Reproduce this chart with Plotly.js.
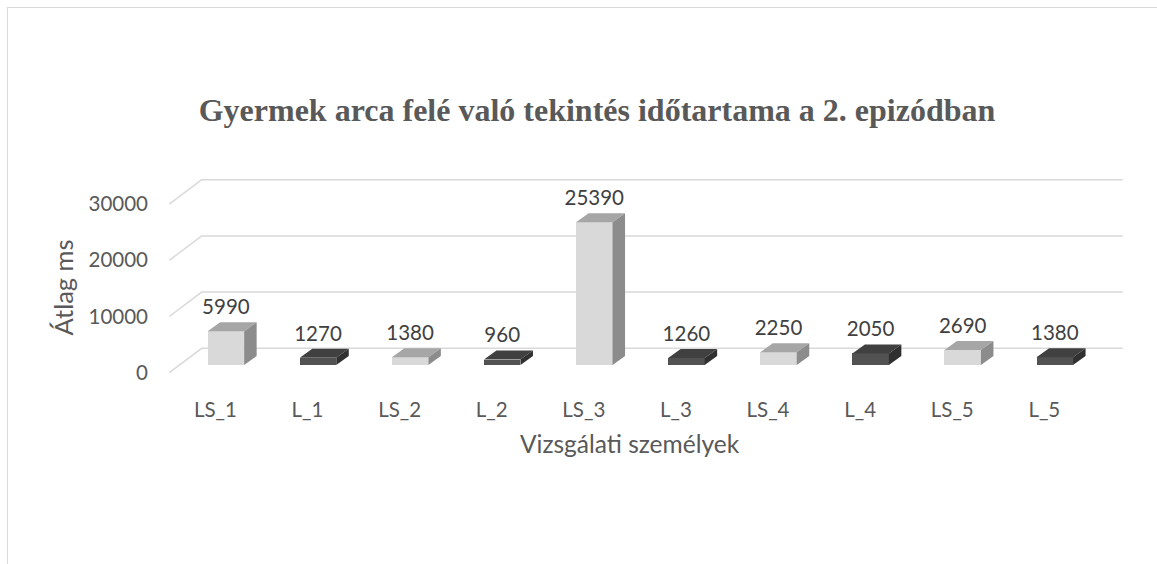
<!DOCTYPE html>
<html>
<head>
<meta charset="utf-8">
<script src="https://cdn.plot.ly/plotly-3.0.1.min.js"></script>
<style>
  html, body { margin: 0; padding: 0; background: #fff; }
  #wrap { position: relative; width: 1157px; height: 564px; overflow: hidden; }
  #chart { position: absolute; left: 0; top: 0; width: 1157px; height: 564px; }
  #frame { position: absolute; left: 7px; top: 7px; width: 1200px; height: 600px;
           border-left: 1.5px solid #d9d9d9; border-top: 1.5px solid #d9d9d9; pointer-events: none; }
</style>
</head>
<body>
<div id="wrap"><div id="chart"></div><div id="frame"></div></div>
<script>
// ---- data ----
const categories = ['LS_1', 'L_1', 'LS_2', 'L_2', 'LS_3', 'L_3', 'LS_4', 'L_4', 'LS_5', 'L_5'];
const values = [5990, 1270, 1380, 960, 25390, 1260, 2250, 2050, 2690, 1380];
const yTickVals = [0, 10000, 20000, 30000];
const yTickText = ['0', '10000', '20000', '30000'];
const titleText = 'Gyermek arca felé való tekintés időtartama a 2. epizódban';
const xTitle = 'Vizsgálati személyek';
const yTitle = 'Átlag ms';

// ---- geometry (pixels) ----
const plotL = 160, plotR = 1130, plotT = 170, plotB = 380;
const pxPerCat = 92.1, pxPerUnit = 5.62 / 1000;
const bar0px = 225.9, base0py = 365;          // first bar centre, front-face base
const floorFrontPy = 372.7, floorBackPy = 348.3;
const floorFrontLeftPx = 169.3, floorBackLeftPx = 201.7, floorBackRightPx = 1122.7;
const depthPx = 12.5, depthPy = 9, barWidthPx = 36.5;
const labelShiftPx = 215.4 - 225.9;
const dataLabelLiftPx = 3;

const toX = px => (px - bar0px) / pxPerCat;
const toY = py => (base0py - py) / pxPerUnit;
const DX = depthPx / pxPerCat, DY = depthPy / pxPerUnit, W = barWidthPx / pxPerCat;

const idx = categories.map((_, i) => i);
const isLS = categories.map(c => c.startsWith('LS'));
const col = {
  lsFront: '#d9d9d9', lsTop: '#a6a6a6', lsSide: '#8c8c8c',
  lFront: '#525252', lTop: '#404040', lSide: '#303030'
};

// gridlines (back wall + side wall)
const gx = [], gy = [];
yTickVals.forEach(v => {
  const off = v * pxPerUnit;
  gx.push(toX(floorFrontLeftPx), toX(floorBackLeftPx), toX(floorBackRightPx), null);
  gy.push(toY(floorFrontPy - off), toY(floorBackPy - off), toY(floorBackPy - off), null);
});

function faces(sel, kind) {
  const xs = [], ys = [];
  idx.forEach(i => {
    if (isLS[i] !== sel) return;
    const v = values[i], l = i - W / 2, r = i + W / 2;
    if (kind === 'top') {
      xs.push(l, r, r + DX, l + DX, l, null);
      ys.push(v, v, v + DY, v + DY, v, null);
    } else {
      xs.push(r, r, r + DX, r + DX, r, null);
      ys.push(0, v, v + DY, DY, 0, null);
    }
  });
  return { xs, ys };
}
function faceTrace(sel, kind, color) {
  const f = faces(sel, kind);
  return { type: 'scatter', x: f.xs, y: f.ys, mode: 'lines', fill: 'toself',
           fillcolor: color, line: { width: 0, color: color }, hoverinfo: 'skip', showlegend: false };
}

const traces = [
  { type: 'scatter', x: gx, y: gy, mode: 'lines', line: { color: '#d9d9d9', width: 1.5 },
    hoverinfo: 'skip', showlegend: false },
  faceTrace(true, 'top', col.lsTop), faceTrace(true, 'side', col.lsSide),
  faceTrace(false, 'top', col.lTop), faceTrace(false, 'side', col.lSide),
  { type: 'bar', x: idx, y: values, width: W,
    marker: { color: idx.map(i => isLS[i] ? col.lsFront : col.lFront), line: { width: 0 } },
    hoverinfo: 'skip', showlegend: false },
  { type: 'scatter', x: idx, y: values.map(v => v + DY + dataLabelLiftPx / pxPerUnit), mode: 'text',
    text: values.map(v => String(v)), textposition: 'top center',
    textfont: { family: 'Lato', size: 20.5, color: '#404040' }, hoverinfo: 'skip', showlegend: false },
  { type: 'scatter', x: [0], y: [yTickVals[0]], yaxis: 'y2', mode: 'markers',
    marker: { opacity: 0 }, hoverinfo: 'skip', showlegend: false }
];

const layout = {
  width: 1157, height: 564,
  margin: { l: plotL, r: 1157 - plotR, t: plotT, b: 564 - plotB },
  paper_bgcolor: '#fff', plot_bgcolor: 'rgba(0,0,0,0)',
  showlegend: false, bargap: 0,
  title: { text: '<b>' + titleText + '</b>', x: 597 / 1157, xanchor: 'center',
           xref: 'container', yref: 'container', y: 1 - 110 / 564, yanchor: 'middle',
           font: { family: 'Liberation Serif', size: 32, color: '#595959' } },
  xaxis: { range: [toX(plotL), toX(plotR)], showgrid: false, zeroline: false, showline: false,
           tickmode: 'array', tickvals: idx.map(i => i + labelShiftPx / pxPerCat), ticktext: categories,
           ticks: '', ticklabelstandoff: 15,
           tickfont: { family: 'Lato', size: 20.5, color: '#595959' }, fixedrange: true },
  yaxis: { range: [toY(plotB), toY(plotT)], showgrid: false, zeroline: false, showline: false,
           showticklabels: false, fixedrange: true },
  yaxis2: { overlaying: 'y', side: 'left', anchor: 'x',
            range: [(floorFrontPy - plotB) / pxPerUnit, (floorFrontPy - plotT) / pxPerUnit],
            showgrid: false, zeroline: false, showline: false, ticks: '',
            tickmode: 'array', tickvals: yTickVals, ticktext: yTickText, ticklabelstandoff: 11,
            tickfont: { family: 'Lato', size: 20.5, color: '#595959' }, fixedrange: true },
  annotations: [
    { text: xTitle, xref: 'paper', yref: 'paper', x: (630 - plotL) / (plotR - plotL),
      y: (plotB - 443) / (plotB - plotT), xanchor: 'center', yanchor: 'middle', showarrow: false,
      font: { family: 'Lato', size: 24.5, color: '#595959' } },
    { text: yTitle, xref: 'paper', yref: 'paper', x: (62 - plotL) / (plotR - plotL),
      y: (plotB - 287.5) / (plotB - plotT), xanchor: 'center', yanchor: 'middle', textangle: -90,
      showarrow: false, font: { family: 'Lato', size: 25.5, color: '#595959' } }
  ]
};

Plotly.newPlot('chart', traces, layout, { displayModeBar: false, staticPlot: true });
</script>
</body>
</html>
